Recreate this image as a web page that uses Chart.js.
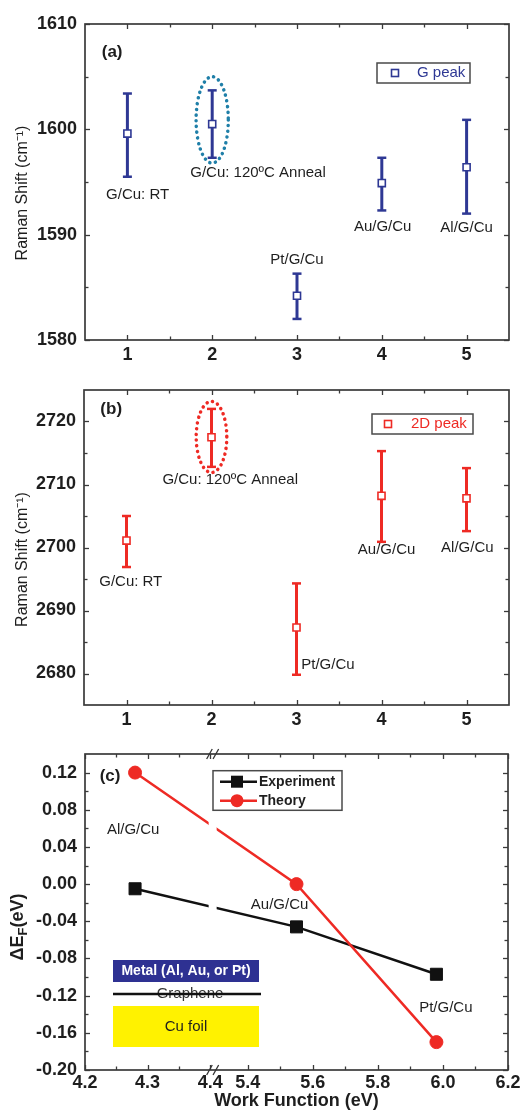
<!DOCTYPE html>
<html>
<head>
<meta charset="utf-8">
<script src="https://cdn.jsdelivr.net/npm/chart.js@4.4.1/dist/chart.umd.min.js"></script>
<style>
html,body{margin:0;padding:0;background:#fff;}
body{width:527px;height:1112px;position:relative;overflow:hidden;}
canvas{position:absolute;left:0;display:block;}
</style>
</head>
<body>
<canvas id="ca" width="527" height="370" style="top:0px"></canvas>
<canvas id="cb" width="527" height="360" style="top:370px"></canvas>
<canvas id="cc" width="527" height="382" style="top:730px"></canvas>
<script>
// ---------------- DATA ----------------
const categories = [1, 2, 3, 4, 5];
const sampleLabels = ['G/Cu: RT', 'G/Cu: 120ºC Anneal', 'Pt/G/Cu', 'Au/G/Cu', 'Al/G/Cu'];

// (a) G peak
const gPeak    = [1599.6, 1600.5, 1584.2, 1594.9, 1596.4];
const gErrHigh = [1603.4, 1603.7, 1586.3, 1597.3, 1600.9];
const gErrLow  = [1595.5, 1597.3, 1582.0, 1592.3, 1592.0];
const gTicks   = [1580, 1590, 1600, 1610];
const gMinor   = [1585, 1595, 1605];

// (b) 2D peak
const dPeak    = [2701.1, 2717.5, 2687.3, 2708.2, 2707.8];
const dErrHigh = [2705.0, 2722.0, 2694.3, 2715.3, 2712.6];
const dErrLow  = [2696.9, 2712.8, 2679.8, 2700.9, 2702.6];
const dTicks   = [2680, 2690, 2700, 2710, 2720];
const dMinor   = [2685, 2695, 2705, 2715];

const catTicks = [1, 2, 3, 4, 5];
const catMinor = [1.5, 2.5, 3.5, 4.5];

// (c) Fermi level shift vs work function
const metalLabels  = ['Al/G/Cu', 'Au/G/Cu', 'Pt/G/Cu'];
const workFunction = [4.28, 5.55, 5.98];
const experiment   = [-0.005, -0.046, -0.097];
const theory       = [0.12, 0.00, -0.17];
const wfTicks  = [4.2, 4.3, 4.4, 5.4, 5.6, 5.8, 6.0, 6.2];
const wfMinor  = [4.25, 4.35, 5.5, 5.7, 5.9, 6.1];
const efTicks  = [-0.20, -0.16, -0.12, -0.08, -0.04, 0.00, 0.04, 0.08, 0.12];
const efMinor  = [-0.18, -0.14, -0.10, -0.06, -0.02, 0.02, 0.06, 0.10];

// broken x axis: 4.2-4.4 | 5.3-6.2
const wfBreakLow = 4.4, wfBreakHigh = 5.3;
function wfToAxis(v) { return v <= wfBreakLow ? v : wfBreakLow + 0.008 + (v - wfBreakHigh) * 0.52; }

// ---------------- HELPERS ----------------
const FONT = '"Liberation Sans", Arial, Helvetica, sans-serif';
Chart.defaults.font.family = FONT;
Chart.defaults.animation = false;
Chart.defaults.devicePixelRatio = 1;

function line(ctx, x1, y1, x2, y2) { ctx.beginPath(); ctx.moveTo(x1, y1); ctx.lineTo(x2, y2); ctx.stroke(); }
function text(ctx, s, x, y, font, color, align) {
  ctx.font = font; ctx.fillStyle = color; ctx.textAlign = align || 'center'; ctx.textBaseline = 'middle';
  ctx.fillText(s, x, y);
}
function drawFrame(chart, xMajor, xMinor, yMajor, yMinor) {
  const {ctx, chartArea: a, scales: {x, y}} = chart;
  ctx.save();
  ctx.strokeStyle = '#3a3a3a';
  ctx.lineWidth = 1.3;
  const doX = (vals, len) => vals.forEach(v => {
    const p = Math.round(x.getPixelForValue(v)) + 0.5;
    line(ctx, p, a.bottom, p, a.bottom - len); line(ctx, p, a.top, p, a.top + len);
  });
  const doY = (vals, len) => vals.forEach(v => {
    const p = Math.round(y.getPixelForValue(v)) + 0.5;
    line(ctx, a.left, p, a.left + len, p); line(ctx, a.right, p, a.right - len, p);
  });
  doX(xMajor, 5); doX(xMinor, 3.5); doY(yMajor, 5); doY(yMinor, 3.5);
  ctx.lineWidth = 1.7;
  ctx.strokeRect(a.left, a.top, a.right - a.left, a.bottom - a.top);
  ctx.restore();
}
function rotatedText(ctx, s, cx, cy, font, color) {
  ctx.save(); ctx.translate(cx, cy); ctx.rotate(-Math.PI / 2);
  text(ctx, s, 0, 0, font, color, 'center'); ctx.restore();
}

// ---------------- RAMAN PANELS ----------------
function ramanChart(id, c) {
  const plugin = {
    id: 'raman_' + id,
    beforeDatasetsDraw(chart) {
      const {ctx, scales: {x, y}} = chart;
      ctx.save(); ctx.strokeStyle = c.color;
      categories.forEach((cat, i) => {
        const px = x.getPixelForValue(cat), pt = y.getPixelForValue(c.hi[i]), pb = y.getPixelForValue(c.lo[i]);
        ctx.lineWidth = 3; line(ctx, px, pt, px, pb);
        ctx.lineWidth = 2.5; line(ctx, px - 4.5, pt, px + 4.5, pt); line(ctx, px - 4.5, pb, px + 4.5, pb);
      });
      ctx.restore();
    },
    afterDraw(chart) {
      const {ctx, scales: {x, y}} = chart;
      // dotted ellipse
      const e = c.ellipse;
      const ex = x.getPixelForValue(e.x), et = y.getPixelForValue(e.top), eb = y.getPixelForValue(e.bottom);
      const rx = x.getPixelForValue(e.x + e.rx) - ex;
      ctx.save();
      ctx.strokeStyle = c.ellipseColor; ctx.lineWidth = 3.5; ctx.lineCap = 'round'; ctx.setLineDash([0.1, 5.6]);
      ctx.beginPath(); ctx.ellipse(ex, (et + eb) / 2, rx, (eb - et) / 2, 0, 0, Math.PI * 2); ctx.stroke();
      ctx.restore();
      drawFrame(chart, catTicks, catMinor, c.yTicks, c.yMinor);
      // annotations
      ctx.save();
      c.labels.forEach(l => text(ctx, l.text, x.getPixelForValue(l.x), y.getPixelForValue(l.y), '15px ' + FONT, '#1e1e1e', 'center'));
      text(ctx, c.panel.text, x.getPixelForValue(c.panel.x), y.getPixelForValue(c.panel.y), 'bold 17px ' + FONT, '#1e1e1e', 'center');
      // legend
      const L = c.legend;
      ctx.strokeStyle = '#4a4a4a'; ctx.lineWidth = 1.5; ctx.strokeRect(L.x, L.y, L.w, L.h);
      ctx.strokeStyle = c.color; ctx.fillStyle = '#fff'; ctx.lineWidth = 1.6;
      ctx.fillRect(L.mx - 3.5, L.my - 3.5, 7, 7); ctx.strokeRect(L.mx - 3.5, L.my - 3.5, 7, 7);
      text(ctx, c.legendText, L.tx, L.my, '15px ' + FONT, c.color, 'left');
      // y title
      rotatedText(ctx, 'Raman Shift (cm⁻¹)', c.title.x, c.title.y, '16px ' + FONT, '#1e1e1e');
      ctx.restore();
    }
  };
  return new Chart(document.getElementById(id), {
    type: 'scatter',
    data: { datasets: [{
      label: c.legendText,
      data: categories.map((cat, i) => ({x: cat, y: c.vals[i]})),
      showLine: false,
      pointStyle: 'rect', pointRadius: 5, pointHoverRadius: 5,
      pointBackgroundColor: '#fff', pointBorderColor: c.color, pointBorderWidth: 1.6
    }]},
    options: {
      responsive: false, animation: false, devicePixelRatio: 1,
      layout: { padding: { top: c.padTop, right: 18, left: 0, bottom: 0 } },
      plugins: { legend: { display: false }, tooltip: { enabled: false } },
      scales: {
        x: {
          type: 'linear', min: 0.5, max: 5.5,
          grid: { display: false, drawTicks: false }, border: { display: false },
          afterBuildTicks: s => { s.ticks = catTicks.map(v => ({value: v})); },
          afterFit: s => { s.height = c.xHeight; },
          ticks: { autoSkip: false, maxRotation: 0, padding: 4, color: '#1e1e1e', font: { size: 18, weight: 'bold' }, callback: v => String(v) }
        },
        y: {
          type: 'linear', min: c.yMin, max: c.yMax,
          grid: { display: false, drawTicks: false }, border: { display: false },
          afterBuildTicks: s => { s.ticks = c.yTicks.map(v => ({value: v})); },
          afterFit: s => { s.width = c.yWidth; },
          ticks: { autoSkip: false, padding: 8, color: '#1e1e1e', font: { size: 18, weight: 'bold' }, callback: v => String(v) }
        }
      }
    },
    plugins: [plugin]
  });
}

ramanChart('ca', {
  vals: gPeak, hi: gErrHigh, lo: gErrLow, yTicks: gTicks, yMinor: gMinor, yMin: 1580, yMax: 1610,
  color: '#2e3894', ellipseColor: '#1f7fa8', legendText: 'G peak',
  ellipse: { x: 2, top: 1605.0, bottom: 1596.8, rx: 0.19 },
  padTop: 24, xHeight: 30, yWidth: 85,
  panel: { text: '(a)', x: 0.82, y: 1607.3 },
  labels: [
    { text: sampleLabels[0], x: 1.12, y: 1593.8 },
    { text: sampleLabels[1], x: 2.54, y: 1595.9 },
    { text: sampleLabels[2], x: 3.0, y: 1587.6 },
    { text: sampleLabels[3], x: 4.01, y: 1590.7 },
    { text: sampleLabels[4], x: 5.0, y: 1590.6 }
  ],
  legend: { x: 377, y: 63, w: 93, h: 20, mx: 395, my: 73, tx: 417 },
  title: { x: 23, y: 193 }
});

ramanChart('cb', {
  vals: dPeak, hi: dErrHigh, lo: dErrLow, yTicks: dTicks, yMinor: dMinor, yMin: 2675, yMax: 2725,
  color: '#ee2a24', ellipseColor: '#ee2a24', legendText: '2D peak',
  ellipse: { x: 2, top: 2723.2, bottom: 2711.9, rx: 0.18 },
  padTop: 20, xHeight: 25, yWidth: 84,
  panel: { text: '(b)', x: 0.82, y: 2722.0 },
  labels: [
    { text: sampleLabels[0], x: 1.05, y: 2694.6 },
    { text: sampleLabels[1], x: 2.22, y: 2710.8 },
    { text: sampleLabels[2], x: 3.37, y: 2681.3 },
    { text: sampleLabels[3], x: 4.06, y: 2699.7 },
    { text: sampleLabels[4], x: 5.01, y: 2700.0 }
  ],
  legend: { x: 372, y: 44, w: 101, h: 20, mx: 388, my: 54, tx: 411 },
  title: { x: 23, y: 189.5 }
});

// ---------------- PANEL (c) ----------------
const RED = '#ee2a24', BLACK = '#111111';
const panelC = {
  id: 'panelC',
  afterDatasetsDraw(chart) {
    const {ctx, chartArea: a, scales: {x}} = chart;
    const x1 = x.getPixelForValue(wfToAxis(wfBreakLow)) - 1.5, x2 = x.getPixelForValue(wfToAxis(wfBreakHigh)) + 1.5;
    ctx.save(); ctx.fillStyle = '#fff'; ctx.fillRect(x1, a.top + 2, x2 - x1, a.bottom - a.top - 4); ctx.restore();
  },
  afterDraw(chart) {
    const {ctx, chartArea: a, scales: {x, y}} = chart;
    ctx.save();
    // inset schematic
    ctx.fillStyle = '#2e3192'; ctx.fillRect(113, 230, 146, 22);
    text(ctx, 'Metal (Al, Au, or Pt)', 186, 241.5, 'bold 14px ' + FONT, '#ffffff', 'center');
    text(ctx, 'Graphene', 190, 264, '15px ' + FONT, '#333', 'center');
    ctx.strokeStyle = '#111'; ctx.lineWidth = 2.5; line(ctx, 113, 264, 261, 264);
    ctx.fillStyle = '#fff200'; ctx.fillRect(113, 276, 146, 41);
    text(ctx, 'Cu foil', 186, 296.5, '15px ' + FONT, '#1e1e1e', 'center');
    ctx.restore();

    drawFrame(chart, wfTicks.map(wfToAxis), wfMinor.map(wfToAxis), efTicks, efMinor);

    // axis break marks
    ctx.save(); ctx.strokeStyle = '#333'; ctx.lineWidth = 1.3;
    const bx = (x.getPixelForValue(wfToAxis(wfBreakLow)) + x.getPixelForValue(wfToAxis(wfBreakHigh))) / 2;
    [a.top, a.bottom].forEach(yy => {
      [bx - 3.2, bx + 3.2].forEach(p => line(ctx, p - 2.8, yy + 5, p + 2.8, yy - 5));
    });
    ctx.restore();

    // annotations
    ctx.save();
    text(ctx, '(c)', x.getPixelForValue(4.24), y.getPixelForValue(0.116), 'bold 17px ' + FONT, '#1e1e1e', 'center');
    text(ctx, metalLabels[0], x.getPixelForValue(4.277), y.getPixelForValue(0.0588), '15px ' + FONT, '#1e1e1e', 'center');
    text(ctx, metalLabels[1], x.getPixelForValue(wfToAxis(5.498)), y.getPixelForValue(-0.0226), '15px ' + FONT, '#1e1e1e', 'center');
    text(ctx, metalLabels[2], x.getPixelForValue(wfToAxis(6.009)), y.getPixelForValue(-0.133), '15px ' + FONT, '#1e1e1e', 'center');

    // legend
    ctx.strokeStyle = '#4a4a4a'; ctx.lineWidth = 1.5; ctx.strokeRect(213, 40.7, 129, 39.6);
    const rows = [
      { label: 'Experiment', color: BLACK, style: 'rect', y: 51.7 },
      { label: 'Theory', color: RED, style: 'circle', y: 70.7 }
    ];
    rows.forEach(r => {
      ctx.strokeStyle = r.color; ctx.lineWidth = 2.5; line(ctx, 220, r.y, 257, r.y);
      ctx.fillStyle = r.color;
      if (r.style === 'rect') ctx.fillRect(231, r.y - 6, 12, 12);
      else { ctx.beginPath(); ctx.arc(237, r.y, 6.5, 0, Math.PI * 2); ctx.fill(); }
      text(ctx, r.label, 259, r.y, 'bold 14px ' + FONT, '#1e1e1e', 'left');
    });

    // y title  ΔE_F(eV)
    ctx.translate(18, 197); ctx.rotate(-Math.PI / 2);
    ctx.fillStyle = '#1e1e1e'; ctx.textBaseline = 'middle'; ctx.textAlign = 'left';
    const big = 'bold 18px ' + FONT, small = 'bold 13px ' + FONT;
    ctx.font = big; const w1 = ctx.measureText('ΔE').width, w3 = ctx.measureText('(eV)').width;
    ctx.font = small; const w2 = ctx.measureText('F').width;
    let sx = -(w1 + w2 + w3) / 2;
    ctx.font = big; ctx.fillText('ΔE', sx, 0); sx += w1;
    ctx.font = small; ctx.fillText('F', sx, 5); sx += w2;
    ctx.font = big; ctx.fillText('(eV)', sx, 0);
    ctx.restore();
  }
};

new Chart(document.getElementById('cc'), {
  type: 'scatter',
  data: { datasets: [
    {
      label: 'Experiment', order: 1,
      data: workFunction.map((w, i) => ({x: wfToAxis(w), y: experiment[i]})),
      showLine: true, borderColor: BLACK, borderWidth: 2.5, backgroundColor: BLACK,
      pointStyle: 'rect', pointRadius: 8.5, pointHoverRadius: 8.5, pointBackgroundColor: BLACK, pointBorderColor: BLACK, pointBorderWidth: 1
    },
    {
      label: 'Theory', order: 0,
      data: workFunction.map((w, i) => ({x: wfToAxis(w), y: theory[i]})),
      showLine: true, borderColor: RED, borderWidth: 2.5, backgroundColor: RED,
      pointStyle: 'circle', pointRadius: 6.5, pointHoverRadius: 6.5, pointBackgroundColor: RED, pointBorderColor: RED, pointBorderWidth: 1
    }
  ]},
  options: {
    responsive: false, animation: false, devicePixelRatio: 1,
    layout: { padding: { top: 24, right: 19, left: 0, bottom: 0 } },
    plugins: { legend: { display: false }, tooltip: { enabled: false } },
    scales: {
      x: {
        type: 'linear', min: 4.2, max: wfToAxis(6.2),
        grid: { display: false, drawTicks: false }, border: { display: false },
        afterBuildTicks: s => { s.ticks = wfTicks.map(v => ({value: wfToAxis(v)})); },
        afterFit: s => { s.height = 42; },
        title: { display: true, text: 'Work Function (eV)', color: '#1e1e1e', font: { size: 18, weight: 'bold' }, padding: { top: 0, bottom: 0 } },
        ticks: { autoSkip: false, maxRotation: 0, padding: 2, color: '#1e1e1e', font: { size: 18, weight: 'bold' },
                 callback: (v, i) => wfTicks[i].toFixed(1) }
      },
      y: {
        type: 'linear', min: -0.20, max: 0.14,
        grid: { display: false, drawTicks: false }, border: { display: false },
        afterBuildTicks: s => { s.ticks = efTicks.map(v => ({value: v})); },
        afterFit: s => { s.width = 85; },
        ticks: { autoSkip: false, padding: 8, color: '#1e1e1e', font: { size: 18, weight: 'bold' },
                 callback: v => (Math.abs(v) < 1e-9 ? 0 : v).toFixed(2) }
      }
    }
  },
  plugins: [panelC]
});
</script>
</body>
</html>
